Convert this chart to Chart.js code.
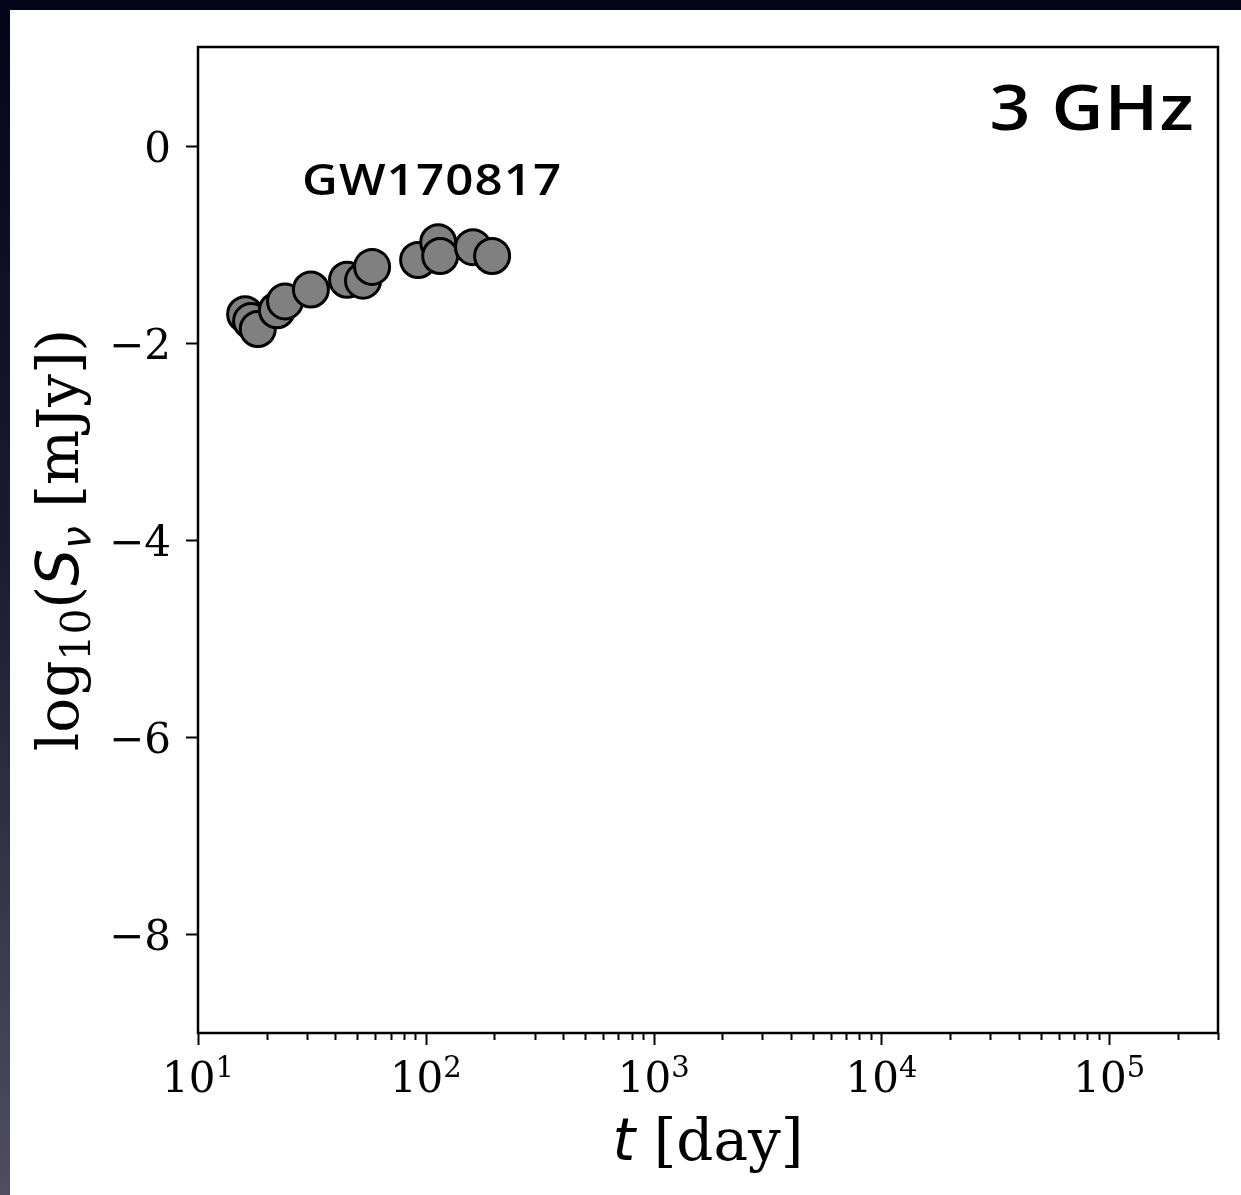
<!DOCTYPE html>
<html>
<head>
<meta charset="utf-8">
<title>GW170817 3 GHz light curve</title>
<script src="https://cdn.jsdelivr.net/npm/chart.js@4/dist/chart.umd.min.js"></script>
<style>
  html, body { margin: 0; padding: 0; width: 1241px; height: 1195px; overflow: hidden; }
  body { background: linear-gradient(to bottom, #05051a 0%, #1a1a30 45%, #4e4e60 100%); }
  #wrap { position: absolute; left: 10px; top: 10px; width: 1231px; height: 1185px; background: #fff; }
</style>
</head>
<body>
<div id="wrap"><canvas id="lc"></canvas></div>
<script>
'use strict';

/* ── Data: 3 GHz flux of GW170817 ───────────────────── */
const tDays   = [16.1, 17.1, 18.3, 22.2, 24.1, 31.3, 45.1, 53.0, 58.1, 92.5, 113.3, 115.6, 161.0, 195.4];
const logFlux = [-1.71, -1.78, -1.86, -1.67, -1.58, -1.46, -1.36, -1.37, -1.23, -1.16, -0.98, -1.12, -1.03, -1.12];

const yTicks    = [0, -2, -4, -6, -8];
const xDecades  = [1, 2, 3, 4, 5];
const xRange    = [10, 3.0e5];
const yRange    = [-9, 1];
const bandLabel = '3 GHz';
const srcLabel  = 'GW170817';

/* ── Fonts ──────────────────────────────────────────── */
const SERIF = '"DejaVu Serif", serif';
const SANS  = '"DejaVu Sans", sans-serif';
const LABEL = '"Open Sans", "Noto Sans", sans-serif';
const TICK_PX  = 42;
const TITLE_PX = 58;
const serif  = px => px + 'px ' + SERIF;
const italic = px => 'italic ' + px + 'px ' + SANS;

/* width of a run of [text, font, dy] pieces */
function runWidth(ctx, parts) {
  let w = 0;
  for (const p of parts) { ctx.font = p[1]; w += ctx.measureText(p[0]).width; }
  return w;
}
function drawRun(ctx, parts, x, y) {
  for (const p of parts) {
    ctx.font = p[1];
    ctx.fillText(p[0], x, y + (p[2] || 0));
    x += ctx.measureText(p[0]).width;
  }
}
/* semibold label, widened a little */
function wideText(ctx, txt, x, y, px, align) {
  ctx.save();
  ctx.font = '600 ' + px + 'px ' + LABEL;
  ctx.letterSpacing = '1px';
  ctx.textAlign = align;
  ctx.translate(x, y);
  ctx.scale(1.12, 1);
  ctx.fillText(txt, 0, 0);
  ctx.restore();
}

/* ── Frame, ticks, labels drawn on top of the scales ── */
const axesPlugin = {
  id: 'mplAxes',
  afterDraw(chart) {
    const ctx = chart.ctx;
    const a = chart.chartArea;
    const xs = chart.scales.x, ys = chart.scales.y;
    ctx.save();
    ctx.fillStyle = '#000';
    ctx.strokeStyle = '#000';

    // x ticks (log, major + minor)
    ctx.lineWidth = 2;
    for (let d = 1; d <= 5; d++) {
      for (let m = 1; m <= 9; m++) {
        const v = m * Math.pow(10, d);
        if (v < xRange[0] || v > xRange[1]) continue;
        const px = Math.round(xs.getPixelForValue(v)) + 0.5;
        const len = m === 1 ? 12 : 7;
        ctx.beginPath();
        ctx.moveTo(px, a.bottom);
        ctx.lineTo(px, a.bottom + len);
        ctx.stroke();
      }
    }
    // x tick labels 10^n
    ctx.textAlign = 'left';
    ctx.textBaseline = 'alphabetic';
    xDecades.forEach(d => {
      const px = xs.getPixelForValue(Math.pow(10, d));
      const parts = [['10', serif(TICK_PX), 0], [String(d), serif(Math.round(TICK_PX * 0.7)), -15]];
      const w = runWidth(ctx, parts);
      drawRun(ctx, parts, px - w / 2, a.bottom + 59);
    });

    // y ticks + labels
    ctx.textAlign = 'right';
    ctx.font = serif(TICK_PX);
    yTicks.forEach(v => {
      const py = Math.round(ys.getPixelForValue(v)) + 0.5;
      ctx.beginPath();
      ctx.moveTo(a.left - 12, py);
      ctx.lineTo(a.left, py);
      ctx.stroke();
      const txt = v < 0 ? '\u2212' + Math.abs(v) : String(v);
      ctx.fillText(txt, a.left - 27, py + TICK_PX * 0.365);
    });

    // frame
    ctx.lineWidth = 2.5;
    ctx.strokeRect(a.left, a.top, a.right - a.left, a.bottom - a.top);

    // x title: t [day]
    ctx.textAlign = 'left';
    const xt = [['t', italic(TITLE_PX), 0], [' [day]', serif(TITLE_PX), 0]];
    const xw = runWidth(ctx, xt);
    drawRun(ctx, xt, (a.left + a.right) / 2 - xw / 2, a.bottom + 127);

    // y title: log10(S_nu [mJy])
    const sub = Math.round(TITLE_PX * 0.7);
    const yt = [
      ['log', serif(TITLE_PX), 0],
      ['10', serif(sub), 12],
      ['(', serif(TITLE_PX), 0],
      ['S', italic(TITLE_PX), 0],
      ['\u03bd', italic(sub), 12],
      [' [mJy])', serif(TITLE_PX), 0]
    ];
    const yw = runWidth(ctx, yt);
    ctx.save();
    ctx.translate(68, (a.top + a.bottom) / 2);
    ctx.rotate(-Math.PI / 2);
    drawRun(ctx, yt, -yw / 2, 0);
    ctx.restore();

    // annotations
    wideText(ctx, srcLabel, a.left + 104, a.top + 148, 44, 'left');
    wideText(ctx, bandLabel, a.right - 23, a.top + 83, 64, 'right');

    ctx.restore();
  }
};

/* ── Chart ──────────────────────────────────────────── */
const points = tDays.map((t, i) => ({ x: t, y: logFlux[i] }));

new Chart(document.getElementById('lc'), {
  type: 'scatter',
  data: {
    datasets: [{
      data: points,
      backgroundColor: '#808080',
      borderColor: '#000',
      borderWidth: 3,
      pointRadius: 17.5,
      pointHoverRadius: 17.5
    }]
  },
  options: {
    responsive: true,
    maintainAspectRatio: false,
    animation: false,
    layout: { padding: { left: 188, top: 37, right: 23, bottom: 162 } },
    plugins: { legend: { display: false }, tooltip: { enabled: false } },
    scales: {
      x: { type: 'logarithmic', min: xRange[0], max: xRange[1], display: false },
      y: { type: 'linear', min: yRange[0], max: yRange[1], display: false }
    }
  },
  plugins: [axesPlugin]
});
</script>
</body>
</html>
